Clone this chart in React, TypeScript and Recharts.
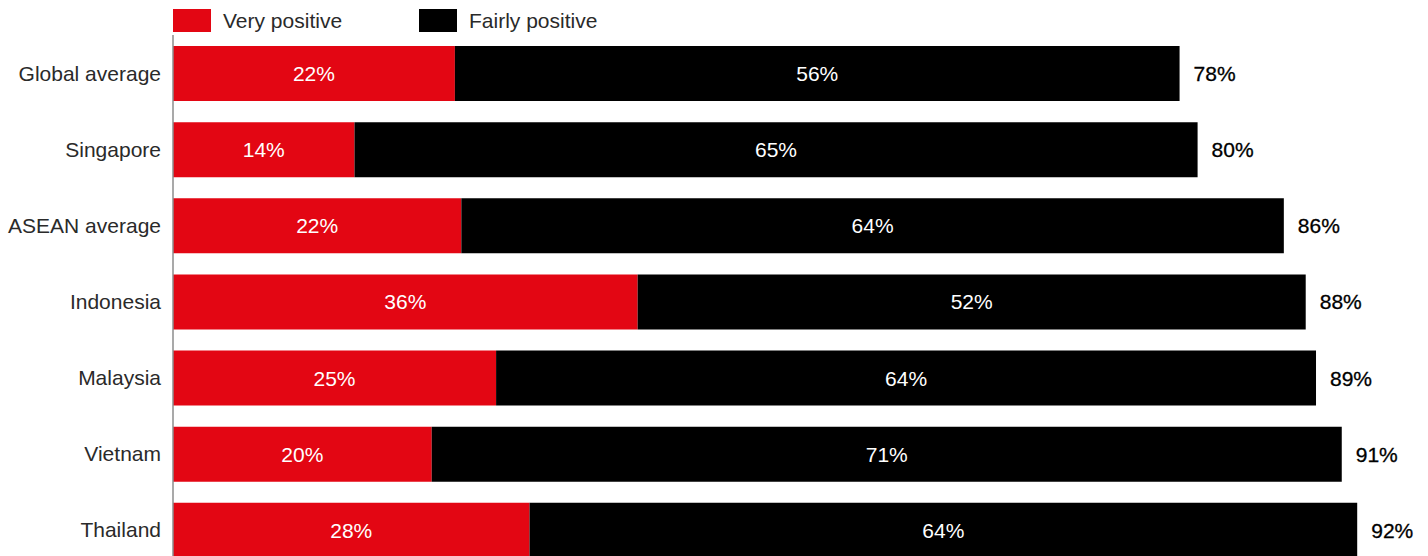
import { BarChart, Bar, XAxis, YAxis, LabelList } from "recharts";

const countries = [
  "Global average",
  "Singapore",
  "ASEAN average",
  "Indonesia",
  "Malaysia",
  "Vietnam",
  "Thailand",
];

// bar lengths (labels below are the printed, rounded ones)
const veryPositive = [21.9, 14.1, 22.4, 36.1, 25.1, 20.1, 27.7];
const fairlyPositive = [56.3, 65.5, 63.9, 51.9, 63.7, 70.7, 64.3];

const veryLabels = ["22%", "14%", "22%", "36%", "25%", "20%", "28%"];
const fairlyLabels = ["56%", "65%", "64%", "52%", "64%", "71%", "64%"];
const totalLabels = ["78%", "80%", "86%", "88%", "89%", "91%", "92%"];

const RED = "#e30613";
const TEXT = "#2a2a2a";

const data = countries.map((name, i) => ({
  name,
  very: veryPositive[i],
  fairly: fairlyPositive[i],
  veryLabel: veryLabels[i],
  fairlyLabel: fairlyLabels[i],
  totalLabel: totalLabels[i],
}));

function LegendItem({ color, label, left }: { color: string; label: string; left: number }) {
  return (
    <div style={{ position: "absolute", left, top: 9, display: "flex", alignItems: "center" }}>
      <span style={{ width: 38, height: 23, background: color, display: "inline-block" }} />
      <span style={{ marginLeft: 12, fontSize: 21, color: TEXT, lineHeight: "23px" }}>{label}</span>
    </div>
  );
}

export default function App() {
  return (
    <div
      style={{
        position: "absolute",
        left: 0,
        top: 0,
        width: 1428,
        height: 568,
        fontFamily: "'Liberation Sans', Arial, sans-serif",
        background: "#fff",
      }}
    >
      <LegendItem color={RED} label="Very positive" left={173} />
      <LegendItem color="#000000" label="Fairly positive" left={419} />
      <BarChart
        layout="vertical"
        width={1428}
        height={568}
        data={data}
        margin={{ top: 35, right: 0, left: 0, bottom: 0 }}
        barSize={55}
      >
        <XAxis type="number" domain={[0, 97.5]} allowDataOverflow hide />
        <YAxis
          type="category"
          dataKey="name"
          width={173}
          tickLine={false}
          tickSize={0}
          tickMargin={12}
          axisLine={{ stroke: "#8c8c8c", strokeWidth: 1.5 }}
          tick={{ fontSize: 21, fill: TEXT }}
        />
        <Bar dataKey="very" stackId="a" fill={RED} isAnimationActive={false}>
          <LabelList dataKey="veryLabel" position="center" fill="#ffffff" fontSize={21} />
        </Bar>
        <Bar dataKey="fairly" stackId="a" fill="#000000" isAnimationActive={false}>
          <LabelList dataKey="fairlyLabel" position="center" fill="#ffffff" fontSize={21} />
          <LabelList
            dataKey="totalLabel"
            position="right"
            offset={14}
            fill="#000000"
            stroke="#000000"
            strokeWidth={0.3}
            fontSize={21}
          />
        </Bar>
      </BarChart>
    </div>
  );
}
